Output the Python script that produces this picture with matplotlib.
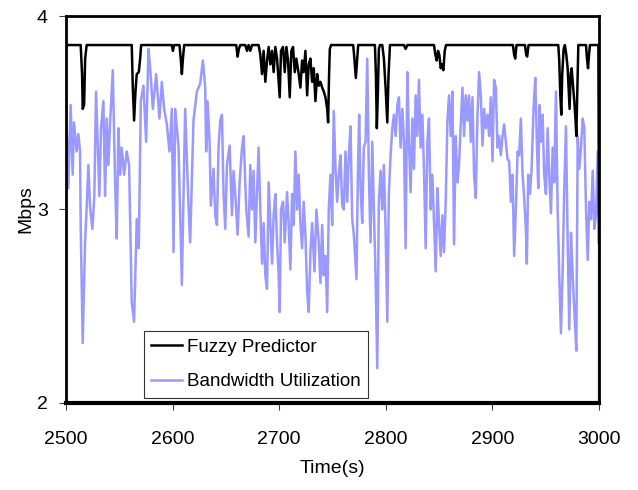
import matplotlib
matplotlib.use("Agg")
import matplotlib.pyplot as plt

# Fuzzy Predictor (black)
fuzzy_t = [2500, 2513.8, 2515.1, 2515.7, 2517.0, 2518.0, 2519.4,
           2561.7, 2562.7, 2563.9, 2565.2, 2566.4, 2568.3, 2569.6, 2570.5,
           2599.3, 2600.3, 2601.5,
           2606.5, 2607.8, 2608.7, 2609.7, 2610.9,
           2659.7, 2661.0, 2662.2, 2663.5,
           2668.2, 2669.8, 2671.3, 2672.9, 2674.5,
           2680.7, 2682.3, 2683.9, 2685.4, 2687.0, 2688.6, 2690.1, 2691.7, 2693.3,
           2694.8, 2696.4, 2698.0, 2699.5, 2700.5, 2701.7, 2703.6, 2705.2, 2706.8,
           2708.3, 2709.9, 2711.4, 2713.0, 2714.6, 2716.1, 2718.3, 2719.9, 2721.5,
           2723.0, 2724.6, 2726.2, 2727.7, 2729.3, 2730.9, 2732.4, 2734.0, 2735.6,
           2737.1, 2738.7, 2740.3, 2741.8, 2743.4, 2745.0, 2745.9, 2746.8, 2747.5, 2748.7,
           2769.4, 2770.7, 2771.9, 2773.2, 2774.1,
           2789.8, 2790.7, 2791.6, 2792.6, 2793.5, 2794.5,
           2796.7, 2798.2, 2799.8, 2801.4, 2802.6, 2803.9,
           2817.0, 2818.6, 2820.2,
           2845.2, 2846.5, 2847.7, 2849.0, 2850.2, 2851.5, 2852.7, 2854.0, 2855.3, 2856.5,
           2919.2, 2920.4, 2921.4, 2922.6,
           2930.5, 2931.7, 2932.6, 2933.9,
           2961.8, 2962.7, 2963.7, 2964.6, 2965.5, 2966.8, 2968.0, 2969.3, 2970.6,
           2971.5, 2972.4, 2973.4, 2974.3, 2975.6, 2976.8, 2978.1, 2978.7, 2979.6, 2980.6,
           2987.8, 2988.7, 2989.7, 2990.6, 2991.5,
           2999.4, 3000]
fuzzy_v = [3.85, 3.85, 3.70, 3.52, 3.54, 3.78, 3.85,
           3.85, 3.63, 3.46, 3.61, 3.70, 3.71, 3.78, 3.85,
           3.85, 3.82, 3.85,
           3.85, 3.77, 3.70, 3.78, 3.85,
           3.85, 3.79, 3.83, 3.85,
           3.85, 3.82, 3.85, 3.82, 3.85,
           3.85, 3.80, 3.70, 3.82, 3.66, 3.77, 3.84, 3.75, 3.82,
           3.71, 3.84, 3.78, 3.66, 3.58, 3.82, 3.84, 3.71, 3.84,
           3.77, 3.58, 3.82, 3.84, 3.71, 3.78, 3.70, 3.63, 3.77,
           3.71, 3.82, 3.59, 3.75, 3.78, 3.66, 3.73, 3.56, 3.70,
           3.64, 3.66, 3.63, 3.61, 3.58, 3.52, 3.45, 3.70, 3.83, 3.85,
           3.85, 3.77, 3.68, 3.78, 3.85,
           3.85, 3.70, 3.42, 3.61, 3.83, 3.85,
           3.85, 3.78, 3.63, 3.45, 3.70, 3.85,
           3.85, 3.83, 3.85,
           3.85, 3.80, 3.77, 3.82, 3.80, 3.73, 3.75, 3.72, 3.82, 3.85,
           3.85, 3.80, 3.78, 3.85,
           3.85, 3.80, 3.79, 3.85,
           3.85, 3.77, 3.59, 3.49, 3.70, 3.83, 3.85, 3.80, 3.73,
           3.63, 3.52, 3.70, 3.73, 3.64, 3.56, 3.45, 3.38, 3.61, 3.85,
           3.85, 3.78, 3.73, 3.80, 3.85,
           3.85, 2.83]

# Bandwidth Utilization (light purple)
bw_t = [2500.0, 2501.3, 2502.2, 2504.4, 2506.3, 2507.5, 2510.0, 2511.6, 2513.2, 2513.8,
        2515.7, 2517.9, 2519.4, 2521.0, 2522.6, 2524.8, 2526.6, 2528.2, 2529.8, 2531.3,
        2532.9, 2535.1, 2536.7, 2538.2, 2539.8, 2541.4, 2543.9, 2546.1, 2547.6, 2549.2,
        2550.8, 2552.3, 2554.5, 2557.0, 2559.2, 2561.7, 2563.9, 2566.4, 2568.3, 2570.2,
        2572.7, 2575.2, 2577.4, 2579.0, 2581.5, 2584.6, 2587.7, 2589.9, 2592.1, 2594.6,
        2597.1, 2599.3, 2600.9, 2602.5, 2605.6, 2608.7, 2610.3, 2611.8, 2615.0, 2616.5,
        2619.6, 2622.8, 2625.9, 2628.4, 2630.6, 2631.5, 2632.8, 2634.7, 2635.9, 2638.4,
        2640.0, 2641.6, 2643.1, 2644.7, 2646.3, 2647.8, 2649.4, 2651.0, 2653.5, 2655.7,
        2657.2, 2658.8, 2661.0, 2662.9, 2665.1, 2666.6, 2669.1, 2671.3, 2672.9, 2674.5,
        2676.0, 2677.6, 2679.2, 2680.7, 2682.3, 2683.9, 2685.4, 2687.0, 2688.6, 2690.1,
        2691.7, 2693.3, 2694.8, 2696.4, 2698.0, 2699.5, 2700.5, 2701.7, 2703.6, 2705.2,
        2707.4, 2708.9, 2710.5, 2712.1, 2713.6, 2715.2, 2716.8, 2718.3, 2719.9, 2721.5,
        2723.0, 2724.6, 2726.2, 2727.7, 2729.3, 2730.9, 2733.1, 2734.9, 2737.1, 2738.7,
        2740.3, 2741.8, 2743.4, 2745.0, 2746.5, 2748.1, 2749.7, 2751.2, 2752.8, 2754.4,
        2755.9, 2757.5, 2759.1, 2760.6, 2762.2, 2763.8, 2765.3, 2766.9, 2768.5, 2770.0,
        2771.6, 2772.5, 2773.8, 2775.0, 2776.3, 2777.9, 2779.4, 2781.0, 2782.6, 2784.1,
        2785.7, 2787.3, 2788.8, 2790.4, 2792.0, 2793.5, 2795.1, 2796.7, 2798.2, 2799.8,
        2801.4, 2802.9, 2804.5, 2806.1, 2807.6, 2809.2, 2810.8, 2812.3, 2813.9, 2815.5,
        2817.0, 2818.6, 2820.2, 2821.7, 2823.3, 2824.9, 2826.4, 2828.0, 2829.6, 2831.1,
        2832.7, 2834.3, 2835.8, 2837.4, 2839.0, 2840.5, 2842.1, 2843.7, 2845.2, 2846.8,
        2848.4, 2849.9, 2851.5, 2853.1, 2854.6, 2856.2, 2857.8, 2859.3, 2860.9, 2862.5,
        2864.0, 2865.6, 2867.2, 2868.7, 2870.3, 2871.9, 2873.4, 2875.0, 2876.6, 2878.1,
        2879.7, 2881.3, 2882.8, 2884.4, 2886.0, 2887.5, 2889.1, 2890.7, 2892.2, 2893.8,
        2895.4, 2896.9, 2898.5, 2900.1, 2901.6, 2903.2, 2904.8, 2906.3, 2907.9, 2909.5,
        2911.0, 2912.6, 2914.2, 2915.7, 2917.3, 2918.9, 2920.4, 2922.0, 2923.6, 2925.1,
        2926.7, 2928.3, 2929.8, 2931.4, 2932.3, 2933.6, 2935.2, 2936.7, 2938.6, 2940.2,
        2941.7, 2943.0, 2944.2, 2945.5, 2947.1, 2948.6, 2950.2, 2951.8, 2953.3, 2954.9,
        2956.5, 2958.0, 2959.6, 2961.2, 2962.7, 2964.3, 2965.9, 2967.4, 2969.0, 2970.6,
        2972.1, 2973.7, 2975.3, 2976.8, 2978.7, 2980.0, 2981.5, 2983.1, 2984.7, 2986.2,
        2987.8, 2989.4, 2990.9, 2992.5, 2994.1, 2995.6, 2997.2, 2998.8, 3000.0, 3000.0]
bw_v = [3.56, 3.30, 3.11, 3.54, 3.18, 3.45, 3.30, 3.39, 3.30, 2.92,
        2.31, 2.83, 3.01, 3.23, 3.01, 2.90, 3.07, 3.61, 3.33, 3.07,
        3.42, 3.56, 3.07, 3.47, 3.23, 3.45, 3.72, 3.14, 2.85, 3.42,
        3.18, 3.32, 3.18, 3.30, 3.23, 2.52, 2.42, 2.95, 2.80, 3.56,
        3.64, 3.35, 3.83, 3.73, 3.52, 3.70, 3.47, 3.66, 3.52, 3.44,
        3.30, 3.52, 2.78, 3.52, 3.32, 2.61, 3.07, 3.52, 3.01, 2.83,
        3.46, 3.61, 3.65, 3.77, 3.63, 3.30, 3.56, 3.35, 3.02, 3.21,
        2.97, 2.92, 3.32, 3.46, 3.49, 3.08, 2.90, 3.23, 3.33, 2.97,
        3.20, 3.08, 2.87, 3.14, 3.32, 3.38, 3.00, 2.86, 3.23, 3.00,
        3.20, 2.83, 3.09, 3.32, 3.00, 2.72, 2.93, 2.66, 2.59, 3.14,
        2.93, 2.72, 2.97, 3.08, 2.83, 2.66, 2.47, 3.00, 3.04, 2.83,
        3.09, 2.92, 2.69, 3.08, 2.92, 3.30, 3.00, 3.18, 2.93, 2.80,
        3.04, 2.87, 2.58, 2.47, 2.78, 2.93, 2.68, 3.00, 2.83, 2.62,
        2.92, 2.66, 2.76, 2.47, 3.00, 3.18, 2.92, 3.51, 3.21, 3.04,
        3.18, 3.28, 3.02, 3.00, 3.30, 3.04, 3.28, 3.43, 2.95, 2.87,
        2.72, 2.64, 3.18, 3.49, 3.11, 2.93, 3.32, 3.35, 3.78, 3.18,
        2.83, 3.35, 3.00, 2.66, 2.18, 3.04, 3.20, 3.00, 3.23, 2.90,
        2.42, 3.09, 3.28, 3.42, 3.49, 3.38, 3.54, 3.58, 3.32, 3.52,
        3.35, 2.80, 3.71, 3.35, 3.09, 3.47, 3.21, 3.59, 3.38, 3.67,
        3.32, 3.49, 3.21, 2.80, 3.35, 3.47, 3.00, 3.18, 2.93, 2.68,
        3.11, 2.93, 2.76, 2.97, 2.78, 3.04, 3.46, 3.59, 3.38, 3.61,
        2.82, 3.38, 3.14, 3.23, 3.44, 3.63, 3.38, 3.59, 3.46, 3.59,
        3.35, 3.58, 3.18, 3.06, 3.49, 3.71, 3.59, 3.33, 3.52, 3.42,
        3.49, 3.38, 3.58, 3.25, 3.67, 3.63, 3.32, 3.38, 3.28, 3.38,
        3.44, 3.35, 3.26, 3.25, 3.04, 3.18, 2.76, 3.00, 3.30, 3.28,
        3.47, 3.18, 3.06, 2.90, 2.72, 3.18, 3.08, 3.20, 3.52, 3.68,
        3.35, 3.11, 3.54, 3.35, 3.49, 3.18, 3.08, 3.42, 3.18, 2.98,
        3.32, 3.14, 3.61, 3.00, 2.66, 2.36, 2.69, 3.11, 3.43, 2.83,
        2.38, 2.88, 2.66, 2.48, 2.27, 3.38, 3.21, 3.32, 3.47, 3.42,
        3.00, 2.74, 3.04, 2.95, 3.20, 2.90, 2.97, 3.30, 2.90, 2.00]

plt.rcParams['font.family'] = ['Liberation Sans', 'DejaVu Sans']

fig = plt.figure(figsize=(6.38, 4.90), dpi=100)
ax = fig.add_axes([0.1034, 0.1776, 0.8355, 0.7897])

ax.plot(bw_t, bw_v, color='#9999ff', linewidth=1.8, label='Bandwidth Utilization', zorder=2)
ax.plot(fuzzy_t, fuzzy_v, color='black', linewidth=1.8, label='Fuzzy Predictor', zorder=3)

ax.set_xlim(2500, 3000)
ax.set_ylim(2, 4)
ax.set_xticks([2500, 2600, 2700, 2800, 2900, 3000])
ax.set_yticks([2, 3, 4])
ax.tick_params(direction='out', length=5, width=0.8, color='#404040', labelsize=14)
ax.tick_params(axis='x', pad=15)
ax.tick_params(axis='y', pad=8)

for side in ['left', 'top', 'right']:
    ax.spines[side].set_linewidth(2)
ax.spines['bottom'].set_linewidth(3)

ax.set_xlabel('Time(s)', fontsize=14, labelpad=9)
ax.set_ylabel('Mbps', fontsize=14, labelpad=2)

handles, labels = ax.get_legend_handles_labels()
leg = ax.legend(handles[::-1], labels[::-1], loc='lower left',
                bbox_to_anchor=(0.146, 0.013), fontsize=13.5, frameon=True,
                fancybox=False, edgecolor='black', handlelength=1.65,
                handletextpad=0.25, borderpad=0.4, labelspacing=0.95,
                borderaxespad=0)
leg.get_frame().set_linewidth(0.8)

fig.savefig('out.png', dpi=100)
